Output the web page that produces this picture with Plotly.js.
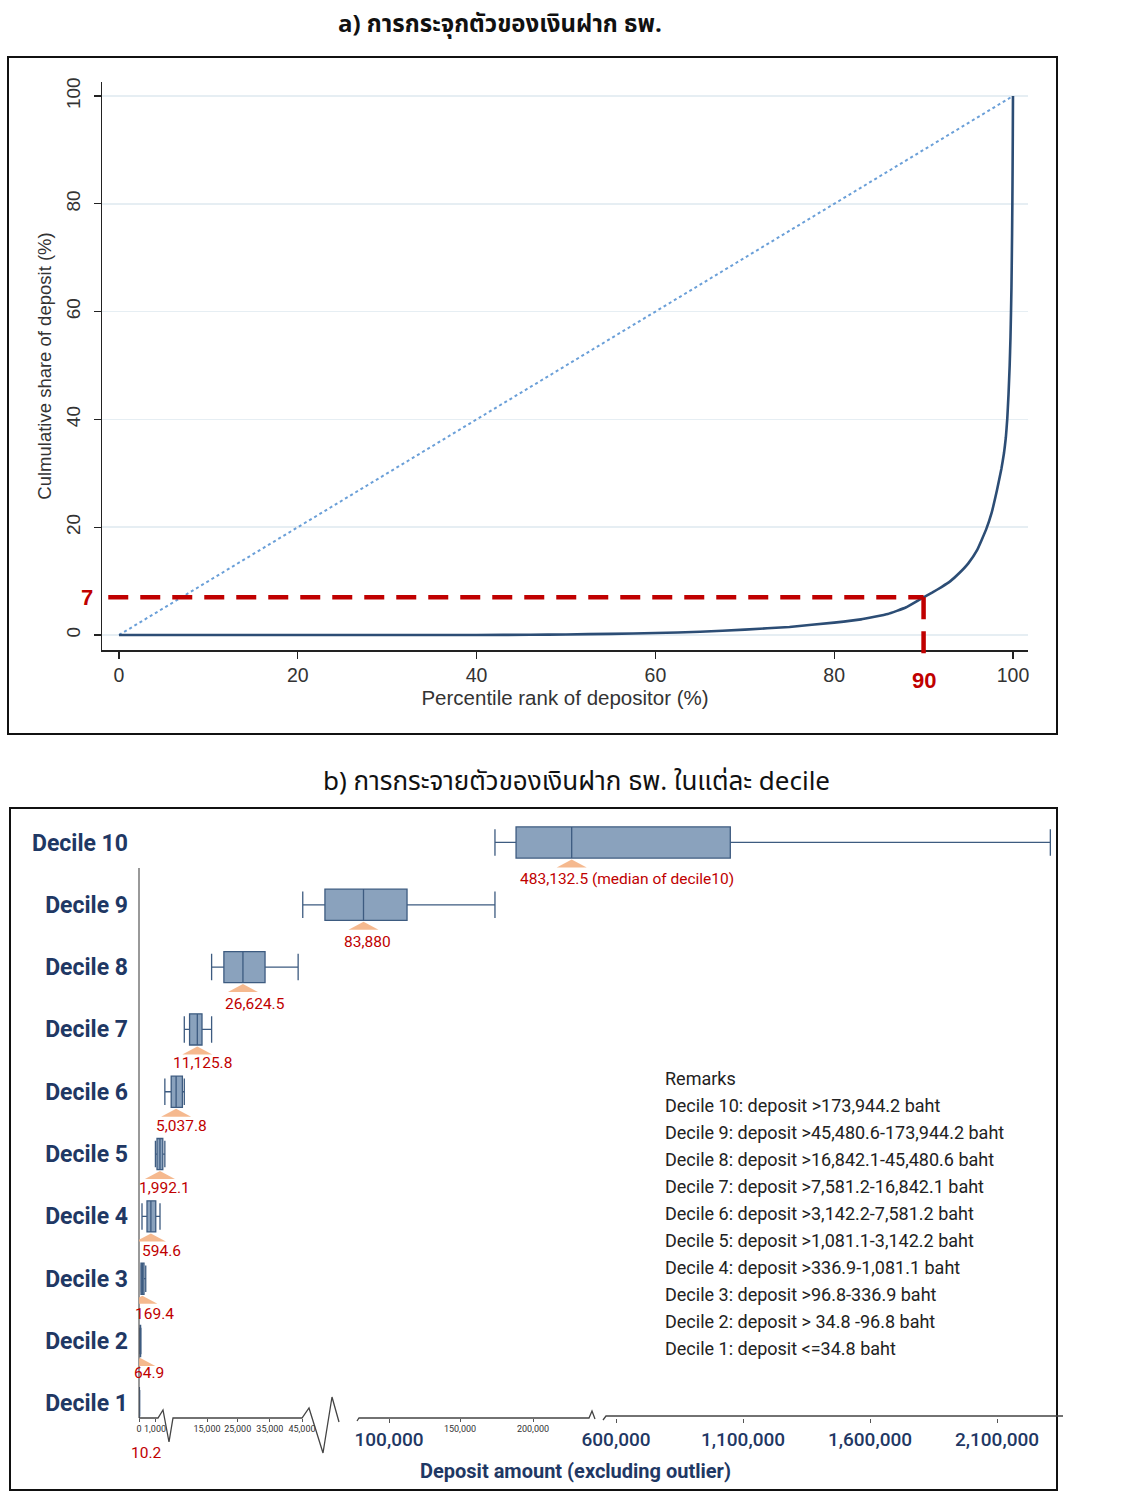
<!DOCTYPE html>
<html><head><meta charset="utf-8">
<script src="https://cdn.plot.ly/plotly-3.0.1.min.js"></script>
<style>html,body{margin:0;padding:0;background:#fff}</style>
</head><body><div id="chart" style="width:1143px;height:1500px"></div>
<script>
// ---------- Panel a: Lorenz curve of deposits ----------
const rankPct  = [0,10,20,30,40,46,50,55,60,65,70,75,80,83,86,88,90,91,92,93,94,95,96,97,97.6,98.2,98.7,99,99.2,99.36,99.5,99.63,99.72,99.78,99.83,99.86,99.9,99.93,99.96,99.98,100];
const cumShare = [0,0,0,0,0,0.05,0.1,0.22,0.37,0.6,1.0,1.5,2.3,2.9,3.9,5.1,7.0,7.9,8.9,10.0,11.5,13.3,15.8,19.6,22.6,26.8,30.8,33.8,36.6,40.1,44.6,50.0,55.2,59.9,64.5,68.5,74.5,80,87,93,100];
const equalityX = [0,100];
const equalityY = [0,100];
const refShare = 7;   // share held by bottom 90%
const refRank = 90;
const topTicks = [0,20,40,60,80,100];

// ---------- Panel b: deposit distribution by decile ----------
const deciles    = ['Decile 1','Decile 2','Decile 3','Decile 4','Decile 5','Decile 6','Decile 7','Decile 8','Decile 9','Decile 10'];
const decileNo   = [1,2,3,4,5,6,7,8,9,10];
const lowWhisker = [0, 34.8, 96.8, 150, 1081.1, 3142.2, 7581.2, 16842.1, 45480.6, 173944.2];
const quart1     = [0, 50, 100, 400, 1400, 4200, 9000, 20700, 59500, 188400];
const medians    = [10.2, 64.9, 169.4, 594.6, 1992.1, 5037.8, 11125.8, 26624.5, 83880, 483132.5];
const quart3     = [20, 80, 250, 1150, 2700, 7000, 13000, 33500, 112700, 1050000];
const highWhisker= [34.8, 96.8, 336.9, 2000, 3142.2, 7581.2, 16842.1, 43800, 173944.2, 2310000];
const medianText = ['10.2','64.9','169.4','594.6','1,992.1','5,037.8','11,125.8','26,624.5','83,880','483,132.5 (median of decile10)'];
const majorTickVals = [100000, 600000, 1100000, 1600000, 2100000];
const majorTickText = ['100,000','600,000','1,100,000','1,600,000','2,100,000'];
const minorTickVals = [0, 1000, 15000, 25000, 35000, 45000, 150000, 200000];
const minorTickText = ['0','1,000','15,000','25,000','35,000','45,000','150,000','200,000'];
const remarks = [
  'Remarks',
  'Decile 10: deposit >173,944.2 baht',
  'Decile 9: deposit >45,480.6-173,944.2 baht',
  'Decile 8: deposit >16,842.1-45,480.6 baht',
  'Decile 7: deposit >7,581.2-16,842.1 baht',
  'Decile 6: deposit >3,142.2-7,581.2 baht',
  'Decile 5: deposit >1,081.1-3,142.2 baht',
  'Decile 4: deposit >336.9-1,081.1 baht',
  'Decile 3: deposit >96.8-336.9 baht',
  'Decile 2: deposit > 34.8 -96.8 baht',
  'Decile 1: deposit <=34.8 baht'
];

// broken (piecewise) axis scale: deposit value -> axis position
const axisBreakScale = [[0,139],[100,141],[300,145],[600,151],[1000,155],[2000,160],[3000,164],[5000,176],[7500,184],[11000,197],[17000,212],[45000,302],[100000,389],[150000,460],[200000,533],[500000,574],[600000,616],[2100000,997]];
function scaleDeposit(v){
  const s = axisBreakScale;
  for(let i=1;i<s.length;i++){
    if(v <= s[i][0] || i === s.length-1){
      const [a0,p0] = s[i-1], [a1,p1] = s[i];
      return p0 + (v-a0)/(a1-a0)*(p1-p0);
    }
  }
}

// style only
const W = 1143, H = 1500;
const PX = x => x/W, PY = y => 1 - y/H;
const labelShift = [7,9,12,11,5,5,5,12,4,-54];
const labelDrop  = [-50,-32,-35,-35,-34,-34,-34,-37,-37,-37];
const NAVY = '#1f3864', RED = '#c00000';
const THAI = '"Noto Sans Thai","Noto Sans Thai UI","Noto Sans","DejaVu Sans",sans-serif';

const traces = [
  {type:'scatter', mode:'lines', x:equalityX, y:equalityY, xaxis:'x', yaxis:'y',
   line:{color:'#6a9fd8', width:2, dash:'dot'}, hoverinfo:'skip', showlegend:false},
  {type:'scatter', mode:'lines', x:rankPct, y:cumShare, xaxis:'x', yaxis:'y',
   line:{color:'#2c4d75', width:2.6, shape:'spline', smoothing:0.3}, showlegend:false},
  {type:'box', orientation:'h', xaxis:'x2', yaxis:'y2', y:decileNo,
   lowerfence:lowWhisker.map(scaleDeposit), q1:quart1.map(scaleDeposit), median:medians.map(scaleDeposit),
   q3:quart3.map(scaleDeposit), upperfence:highWhisker.map(scaleDeposit),
   width:0.5, whiskerwidth:0.85, boxpoints:false,
   fillcolor:'#8aa2bd', line:{color:'#3d5b80', width:1.3}, showlegend:false, hoverinfo:'skip'},
  // carrier for the secondary (small-label) tick axis; draws nothing
  {type:'scatter', mode:'none', xaxis:'x3', yaxis:'y2', x:minorTickVals.map(scaleDeposit), y:minorTickVals.map(()=>1),
   hoverinfo:'skip', showlegend:false}
];

// top y range / domain
const yDom = [PY(650), PY(82)], yRng = [-2.78, 102.6];
const yToPaper = v => yDom[0] + (v - yRng[0])/(yRng[1]-yRng[0])*(yDom[1]-yDom[0]);

const shapes = [
  // frames
  {type:'rect', xref:'paper', yref:'paper', x0:PX(8), x1:PX(1057), y0:PY(734), y1:PY(57), line:{color:'#111', width:2}},
  {type:'rect', xref:'paper', yref:'paper', x0:PX(10), x1:PX(1057), y0:PY(1490), y1:PY(808), line:{color:'#111', width:2}},
  // reference dashed lines
  {type:'line', xref:'x', yref:'y', x0:-1.2, x1:refRank, y0:refShare, y1:refShare, line:{color:RED, width:4.5, dash:'20px,12px'}},
  {type:'line', xref:'x', yref:'paper', x0:refRank, x1:refRank, y0:yToPaper(refShare), y1:PY(657), line:{color:RED, width:4.5, dash:'22px,12px'}},
  // bottom y axis line
  {type:'line', xref:'x2 domain', yref:'paper', x0:0, x1:0, y0:PY(868), y1:PY(1418), line:{color:'#555', width:1.2}},
  // broken x axis line pieces
  {type:'path', xref:'paper', yref:'paper', line:{color:'#444', width:1.3},
   path:`M${PX(139)},${PY(1418)} L${PX(158)},${PY(1418)} L${PX(163)},${PY(1410)} L${PX(169)},${PY(1442)} L${PX(173)},${PY(1418)} L${PX(302)},${PY(1418)} L${PX(309)},${PY(1408)} L${PX(323)},${PY(1453)} L${PX(332)},${PY(1397)} L${PX(339)},${PY(1422)}`},
  {type:'path', xref:'paper', yref:'paper', line:{color:'#444', width:1.3},
   path:`M${PX(357)},${PY(1421)} L${PX(359)},${PY(1418)} L${PX(589)},${PY(1418)} L${PX(592)},${PY(1411)} L${PX(595)},${PY(1419)}`},
  {type:'path', xref:'paper', yref:'paper', line:{color:'#444', width:1.3},
   path:`M${PX(603)},${PY(1420)} L${PX(606)},${PY(1416)} L${PX(1063)},${PY(1416)}`}
];
// median markers (flat triangles below each box)
medians.forEach((m,i)=>{
  shapes.push({type:'path', xref:'x2', yref:'y2', xsizemode:'pixel', ysizemode:'pixel',
    xanchor:scaleDeposit(m), yanchor:decileNo[i], path: i===0 ? 'M-15,-37 L15,-37 L0,-29 Z' : 'M-15,-25 L15,-25 L0,-17 Z',
    fillcolor:'#f4b183', line:{width:0}, opacity:0.9});
});

const annotations = [
  {text:'<b>a) การกระจุกตัวของเงินฝาก ธพ.</b>', xref:'paper', yref:'paper', x:PX(500), y:PY(25), xanchor:'center', yanchor:'middle', showarrow:false,
   font:{family:THAI, size:24, color:'#111'}},
  {text:'b) การกระจายตัวของเงินฝาก ธพ. ในแต่ละ decile', xref:'paper', yref:'paper', x:PX(576), y:PY(782), xanchor:'center', yanchor:'middle', showarrow:false,
   font:{family:THAI, size:26, color:'#111'}},
  {text:'<b>7</b>', xref:'paper', yref:'y', x:PX(87), y:refShare, xanchor:'center', yanchor:'middle', showarrow:false, font:{family:'Liberation Sans', size:22, color:RED}},
  {text:'<b>90</b>', xref:'x', yref:'paper', x:refRank, y:PY(681), xanchor:'center', yanchor:'middle', showarrow:false, font:{family:'Liberation Sans', size:22, color:RED}},
  {text:'<b>Deposit amount (excluding outlier)</b>', xref:'paper', yref:'paper', x:PX(575), y:PY(1471), xanchor:'center', yanchor:'middle', showarrow:false,
   font:{family:'Roboto', size:20, color:NAVY}}
];
medians.forEach((m,i)=>{
  annotations.push({text:medianText[i], xref:'x2', yref:'y2', x:scaleDeposit(m), y:decileNo[i], yshift:labelDrop[i], yanchor:'middle',
    xshift:labelShift[i], xanchor: i===9 ? 'left' : 'center', showarrow:false,
    font:{family:'Roboto', size:15.5, color:RED}});
});
remarks.forEach((r,i)=>{
  annotations.push({text:r, xref:'paper', yref:'paper', x:PX(663), y:PY(1078 + 27*i), xanchor:'left', yanchor:'middle', showarrow:false,
    font:{family:'Roboto', size:18, color:'#222'}});
});

const layout = {
  width:W, height:H, margin:{l:0,r:0,t:0,b:0}, paper_bgcolor:'#fff', plot_bgcolor:'rgba(0,0,0,0)',
  font:{family:'Liberation Sans, Arial, sans-serif', color:'#333'},
  xaxis:{domain:[PX(102),PX(1028)], range:[-1.9,101.68], anchor:'y', tickvals:topTicks, ticks:'outside', ticklen:7, tickwidth:1.3,
    tickcolor:'#222', showline:true, linecolor:'#222', linewidth:1.5, showgrid:false, zeroline:false,
    tickfont:{size:19.5, color:'#333'}, title:{text:'Percentile rank of depositor (%)', font:{size:20.5, color:'#333'}, standoff:2}},
  yaxis:{domain:yDom, range:yRng, anchor:'x', tickvals:topTicks, ticks:'outside', ticklen:7, tickwidth:1.3, tickangle:-90,
    tickcolor:'#222', showline:true, linecolor:'#222', linewidth:1.5, showgrid:true, gridcolor:'#e6eef3', gridwidth:1.5, zeroline:false,
    ticklabelstandoff:6,
    tickfont:{size:19, color:'#333'}, title:{text:'Culmulative share of deposit (%)', font:{size:18.5, color:'#333'}, standoff:6}},
  xaxis2:{domain:[PX(139),PX(1063)], range:[139,1063], anchor:'y2', tickvals:majorTickVals.map(scaleDeposit), ticktext:majorTickText,
    ticks:'outside', ticklen:4, tickcolor:'#555', showline:false, showgrid:false, zeroline:false, tickangle:0,
    tickfont:{family:'Roboto', size:19, color:NAVY, weight:500}},
  xaxis3:{overlaying:'x2', range:[139,1063], anchor:'y2', side:'bottom', tickvals:minorTickVals.map(scaleDeposit), ticktext:minorTickText,
    ticks:'outside', ticklen:3, tickcolor:'#555', showline:false, showgrid:false, zeroline:false, ticklabelstandoff:-1, tickangle:0,
    tickfont:{family:'Roboto', size:9, color:'#333'}},
  yaxis2:{domain:[PY(1418),PY(808)], range:[0.765,10.553], anchor:'x2', tickvals:decileNo, ticktext:deciles, ticks:'',
    showline:false, showgrid:false, zeroline:false, ticklabelstandoff:10,
    tickfont:{family:'Roboto', size:23, color:NAVY, weight:700}},
  shapes:shapes, annotations:annotations, showlegend:false
};

Plotly.newPlot('chart', traces, layout, {displayModeBar:false, staticPlot:true});
</script></body></html>
